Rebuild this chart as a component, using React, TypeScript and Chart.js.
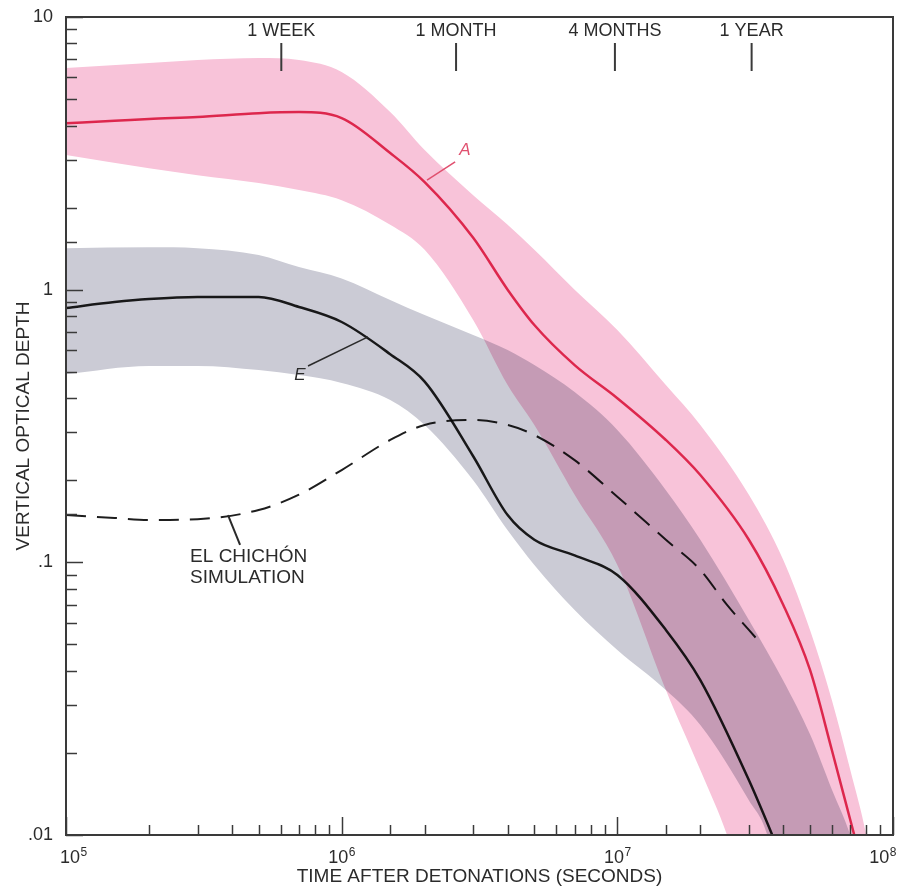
import { useEffect, useRef } from 'react';
import { Chart, registerables } from 'chart.js';

Chart.register(...registerables);

// ---------- data (seconds, optical depth) ----------
const timeA = [1e5, 1.5e5, 2e5, 3e5, 5e5, 7e5, 1e6, 1.5e6, 2e6, 3e6, 4e6, 5e6, 7e6, 1e7, 1.5e7, 2e7, 3e7, 4e7, 5e7, 6e7, 7e7, 8e7];
const depthA = [4.08, 4.16, 4.23, 4.3, 4.44, 4.48, 4.26, 3.17, 2.48, 1.55, 1.0, 0.742, 0.529, 0.4, 0.281, 0.209, 0.121, 0.0698, 0.0403, 0.0205, 0.01135, 0.0068];

const timeE = [1e5, 1.5e5, 2e5, 3e5, 5e5, 7e5, 1e6, 1.5e6, 2e6, 3e6, 4e6, 5e6, 7e6, 1e7, 1.5e7, 2e7, 3e7, 4e7];
const depthE = [0.857, 0.901, 0.924, 0.94, 0.94, 0.864, 0.761, 0.58, 0.46, 0.245, 0.149, 0.121, 0.106, 0.0899, 0.0565, 0.037, 0.0159, 0.008];

const timeChichon = [1e5, 1.5e5, 2e5, 3e5, 5e5, 7e5, 1e6, 1.5e6, 2e6, 3e6, 4e6, 5e6, 7e6, 1e7, 1.5e7, 2e7, 2.5e7, 3e7, 3.35e7];
const depthChichon = [0.149, 0.1455, 0.143, 0.144, 0.1556, 0.177, 0.218, 0.281, 0.319, 0.333, 0.319, 0.293, 0.237, 0.174, 0.121, 0.0938, 0.0698, 0.0565, 0.0498];

const timeBandAUpper = [1e5, 2e5, 3e5, 5e5, 7e5, 1e6, 1.5e6, 2e6, 3e6, 4e6, 5e6, 7e6, 1e7, 1.5e7, 2e7, 3e7, 4e7, 5e7, 6e7, 7e7, 8e7, 9e7];
const depthBandAUpper = [6.5, 6.78, 6.95, 7.07, 6.95, 6.28, 4.48, 3.25, 2.22, 1.73, 1.4, 1.0, 0.711, 0.447, 0.319, 0.177, 0.102, 0.0565, 0.0313, 0.0173, 0.01, 0.005];
const timeBandALower = [1e5, 2e5, 3e5, 5e5, 7e5, 1e6, 1.5e6, 2e6, 3e6, 4e6, 5e6, 7e6, 1e7, 1.5e7, 2e7, 2.5e7, 3e7, 9e7];
const depthBandALower = [3.12, 2.79, 2.63, 2.46, 2.32, 2.13, 1.73, 1.4, 0.774, 0.447, 0.319, 0.177, 0.0978, 0.034, 0.0173, 0.01, 0.0055, 0.0001];

const timeBandEUpper = [1e5, 2e5, 3e5, 5e5, 7e5, 1e6, 1.5e6, 2e6, 3e6, 4e6, 5e6, 7e6, 1e7, 1.5e7, 2e7, 3e7, 4e7, 5e7, 6e7, 7e7, 9e7];
const depthBandEUpper = [1.42, 1.43, 1.42, 1.34, 1.21, 1.1, 0.917, 0.807, 0.682, 0.601, 0.529, 0.421, 0.306, 0.184, 0.121, 0.0615, 0.0368, 0.0234, 0.0147, 0.01, 0.004];
const timeBandELower = [1e5, 2e5, 3e5, 5e5, 7e5, 1e6, 1.5e6, 2e6, 3e6, 4e6, 5e6, 7e6, 1e7, 1.5e7, 2e7, 3e7, 3.5e7, 9e7];
const depthBandELower = [0.49, 0.525, 0.525, 0.507, 0.486, 0.455, 0.394, 0.319, 0.2, 0.131, 0.0978, 0.0669, 0.0477, 0.034, 0.0253, 0.0134, 0.01, 0.0001];

// time markers along the top
const markerTimes = [6.04e5, 2.6e6, 9.8e6, 3.07e7];
const markerLabels = ['1 WEEK', '1 MONTH', '4 MONTHS', '1 YEAR'];

// tick labels: x = 10^exponent, y decades
const xTickExponents = ['5', '6', '7', '8'];
const yTickLabels: Record<number, string> = { 1: '10', 0: '1', [-1]: '.1', [-2]: '.01' };

const FONT = "'Liberation Sans', Arial, Helvetica, sans-serif";
const TEXT = '#2b2b2b';

const pts = (xs: number[], ys: number[]) => xs.map((x, i) => ({ x, y: ys[i] }));
const pow10 = (v: number) => {
  const l = Math.log10(v);
  const r = Math.round(l);
  return Math.abs(l - r) < 1e-6 ? r : null;
};

const multiplyPlugin = {
  id: 'multiplyBands',
  beforeDatasetsDraw(chart: any) {
    chart.ctx.save();
    chart.ctx.globalCompositeOperation = 'multiply';
  },
  afterDatasetsDraw(chart: any) {
    chart.ctx.restore();
  },
};

const decorPlugin = {
  id: 'decor',
  afterDatasetsDraw(chart: any) {
    const { ctx, chartArea: a } = chart;
    const xs = chart.scales.x;
    const ys = chart.scales.y;
    const line = (x1: number, y1: number, x2: number, y2: number) => {
      ctx.beginPath();
      ctx.moveTo(x1, y1);
      ctx.lineTo(x2, y2);
      ctx.stroke();
    };
    ctx.save();
    ctx.strokeStyle = '#3a3a3a';
    ctx.lineWidth = 1.5;
    xs.ticks.forEach((t: any) => {
      const px = Math.round(xs.getPixelForValue(t.value)) + 0.5;
      const len = pow10(t.value) !== null ? 18 : 10;
      line(px, a.bottom, px, a.bottom - len);
    });
    ys.ticks.forEach((t: any) => {
      const py = Math.round(ys.getPixelForValue(t.value)) + 0.5;
      const len = pow10(t.value) !== null ? 17 : 11;
      line(a.left, py, a.left + len, py);
    });
    // frame
    ctx.lineWidth = 2;
    ctx.strokeStyle = '#3a3a3a';
    ctx.strokeRect(a.left, a.top, a.right - a.left, a.bottom - a.top);

    // x tick labels 10^n with superscript exponent
    ctx.fillStyle = TEXT;
    ctx.textBaseline = 'alphabetic';
    ctx.textAlign = 'left';
    xTickExponents.forEach((e, i) => {
      const px = xs.getPixelForValue(Math.pow(10, Number(e)));
      ctx.font = `18px ${FONT}`;
      const wBase = ctx.measureText('10').width;
      ctx.font = `12px ${FONT}`;
      const wExp = ctx.measureText(e).width;
      const w = wBase + wExp;
      let left = px - w / 2;
      if (i === 0) left = px - 6;
      if (i === xTickExponents.length - 1) left = px + 3 - w;
      const base = a.bottom + 28;
      ctx.font = `18px ${FONT}`;
      ctx.fillText('10', left, base);
      ctx.font = `12px ${FONT}`;
      ctx.fillText(e, left + wBase + 0.5, base - 7);
    });

    // top time markers
    ctx.fillStyle = TEXT;
    ctx.font = `18px ${FONT}`;
    ctx.textAlign = 'center';
    ctx.textBaseline = 'middle';
    ctx.lineWidth = 2;
    markerTimes.forEach((t, i) => {
      const px = xs.getPixelForValue(t);
      ctx.fillText(markerLabels[i], px, a.top + 14);
      line(px, a.top + 26, px, a.top + 54);
    });

    // curve labels
    const P = (x: number, y: number) => [xs.getPixelForValue(x), ys.getPixelForValue(y)];
    // A
    ctx.strokeStyle = '#e0506f';
    ctx.lineWidth = 1.5;
    let p1 = P(2.04e6, 2.52), p2 = P(2.58e6, 2.94);
    line(p1[0], p1[1], p2[0], p2[1]);
    ctx.fillStyle = '#e0506f';
    ctx.font = `italic 17px ${FONT}`;
    let pt = P(2.8e6, 3.25);
    ctx.fillText('A', pt[0], pt[1]);
    // E
    ctx.strokeStyle = '#2a2a2a';
    p1 = P(1.246e6, 0.671); p2 = P(7.55e5, 0.525);
    line(p1[0], p1[1], p2[0], p2[1]);
    ctx.fillStyle = TEXT;
    pt = P(7.06e5, 0.486);
    ctx.fillText('E', pt[0], pt[1]);
    // El Chichon
    ctx.lineWidth = 2;
    p1 = P(3.87e5, 0.149); p2 = P(4.28e5, 0.1158);
    line(p1[0], p1[1], p2[0], p2[1]);
    ctx.font = `19px ${FONT}`;
    ctx.textAlign = 'left';
    pt = P(2.82e5, 0.1046);
    ctx.fillText('EL CHICHÓN', pt[0], pt[1]);
    ctx.fillText('SIMULATION', pt[0], pt[1] + 21);
    ctx.restore();
  },
};

export default function App() {
  const ref = useRef<HTMLCanvasElement>(null);
  useEffect(() => {
    document.body.style.margin = '0';
    const lineBase = { pointRadius: 0, cubicInterpolationMode: 'monotone' as const, fill: false };
    const chart = new Chart(ref.current!, {
      type: 'line',
      data: {
        datasets: [
          { ...lineBase, label: 'band E upper', data: pts(timeBandEUpper, depthBandEUpper), borderWidth: 0, backgroundColor: '#cbcbd5', fill: '+1' },
          { ...lineBase, label: 'band E lower', data: pts(timeBandELower, depthBandELower), borderWidth: 0 },
          { ...lineBase, label: 'band A upper', data: pts(timeBandAUpper, depthBandAUpper), borderWidth: 0, backgroundColor: '#f8c3d9', fill: '+1' },
          { ...lineBase, label: 'band A lower', data: pts(timeBandALower, depthBandALower), borderWidth: 0 },
          { ...lineBase, label: 'El Chichón', data: pts(timeChichon, depthChichon), borderColor: '#1e1e1e', borderWidth: 2, borderDash: [20, 11] },
          { ...lineBase, label: 'E', data: pts(timeE, depthE), borderColor: '#1e1e1e', borderWidth: 2.5 },
          { ...lineBase, label: 'A', data: pts(timeA, depthA), borderColor: '#e4335a', borderWidth: 2.5 },
        ],
      },
      options: {
        animation: false,
        responsive: false,
        maintainAspectRatio: false,
        parsing: false as any,
        layout: { padding: { left: 0, top: 17, right: 7, bottom: 0 } },
        plugins: { legend: { display: false }, tooltip: { enabled: false } },
        scales: {
          x: {
            type: 'logarithmic',
            min: 1e5,
            max: 1e8,
            grid: { display: false, drawTicks: false },
            border: { display: false },
            ticks: {
              autoSkip: false,
              maxRotation: 0,
              padding: 6,
              color: TEXT,
              font: { family: FONT, size: 18 },
              callback: () => '',
            },
            title: {
              display: true,
              text: 'TIME AFTER DETONATIONS (SECONDS)',
              color: TEXT,
              font: { family: FONT, size: 19 },
              padding: { top: 0, bottom: 0 },
            },
            afterFit: (s: any) => {
              s.height = 53;
              s.paddingLeft = 0;
              s.paddingRight = 0;
            },
          },
          y: {
            type: 'logarithmic',
            min: 0.01,
            max: 10,
            grid: { display: false, drawTicks: false },
            border: { display: false },
            ticks: {
              autoSkip: false,
              padding: 13,
              color: TEXT,
              font: { family: FONT, size: 18 },
              callback: (v: any) => {
                const p = pow10(Number(v));
                return p !== null && yTickLabels[p] !== undefined ? yTickLabels[p] : '';
              },
            },
            title: {
              display: true,
              text: 'VERTICAL OPTICAL DEPTH',
              color: TEXT,
              font: { family: FONT, size: 19 },
              padding: { top: 12, bottom: 0 },
            },
            afterFit: (s: any) => {
              s.width = 66;
              s.paddingTop = 0;
              s.paddingBottom = 0;
            },
          },
        },
      },
      plugins: [multiplyPlugin, decorPlugin],
    });
    return () => chart.destroy();
  }, []);
  return <canvas ref={ref} width={900} height={888} style={{ display: 'block' }} />;
}
